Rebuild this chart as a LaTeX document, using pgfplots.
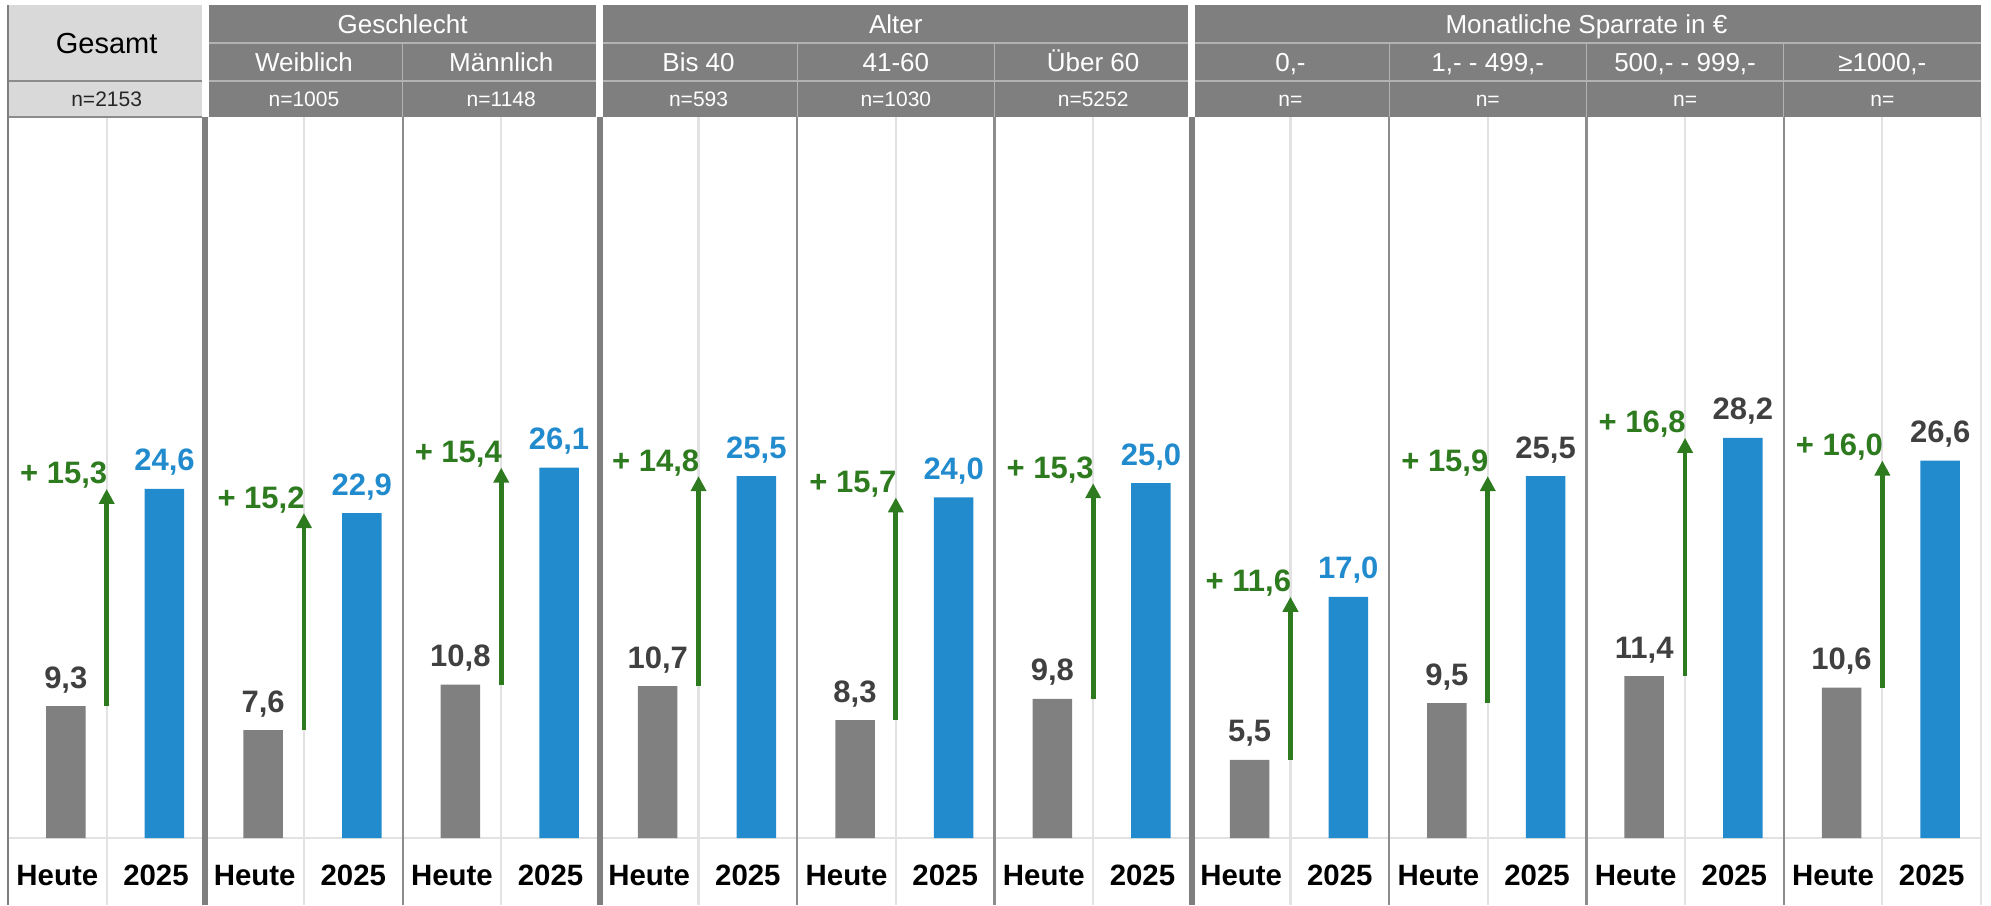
\documentclass[border=0pt]{standalone}
\usepackage{fontspec}
\setmainfont{Liberation Sans}
\usepackage{pgfplots}
\usepackage{pgfplotstable}
\pgfplotsset{compat=1.18}
\usetikzlibrary{arrows.meta}

\definecolor{barGray}{RGB}{128,128,128}
\definecolor{barBlue}{RGB}{34,139,206}
\definecolor{arrGreen}{RGB}{46,122,30}
\definecolor{lblGray}{RGB}{64,64,64}
\definecolor{hdrDark}{RGB}{127,127,127}
\definecolor{hdrLight}{RGB}{217,217,217}
\definecolor{gridLight}{RGB}{226,226,226}
\definecolor{subLine}{RGB}{140,140,140}
\definecolor{hdrLine}{RGB}{178,178,178}

\newcommand{\val}{\pgfmathprintnumber[fixed,fixed zerofill,precision=1,use comma,assume math mode=true]{\pgfplotspointmeta}}
\newcommand{\lblfont}{\fontsize{15.5pt}{18pt}\selectfont\bfseries}
\newcommand{\botfont}{\fontsize{14.7pt}{17pt}\selectfont\bfseries}
\newcommand{\hA}{\fontsize{13pt}{15pt}\selectfont}
\newcommand{\hG}{\fontsize{14.5pt}{16pt}\selectfont}
\newcommand{\hN}{\fontsize{10.5pt}{12pt}\selectfont}

% Heute (today)
\pgfplotstableread{
x y
0.586 9.3
2.586 7.6
4.586 10.8
6.586 10.7
8.586 8.3
10.586 9.8
12.586 5.5
14.586 9.5
16.586 11.4
18.586 10.6
}\heute

% 2025
\pgfplotstableread{
x y
1.586 24.6
3.586 22.9
5.586 26.1
7.586 25.5
9.586 24.0
11.586 25.0
13.586 17.0
15.586 25.5
17.586 28.2
19.586 26.6
}\zukunft

% arrows: from Heute to 2025, with printed difference
\pgfplotstableread{
x y0 y1 lab
1 9.3 24.6 15.3
3 7.6 22.9 15.2
5 10.8 26.1 15.4
7 10.7 25.5 14.8
9 8.3 24.0 15.7
11 9.8 25.0 15.3
13 5.5 17.0 11.6
15 9.5 25.5 15.9
17 11.4 28.2 16.8
19 10.6 26.6 16.0
}\pfeile

\pgfplotstableread{
x y lab
0.5 0 Heute
1.5 0 2025
2.5 0 Heute
3.5 0 2025
4.5 0 Heute
5.5 0 2025
6.5 0 Heute
7.5 0 2025
8.5 0 Heute
9.5 0 2025
10.5 0 Heute
11.5 0 2025
12.5 0 Heute
13.5 0 2025
14.5 0 Heute
15.5 0 2025
16.5 0 Heute
17.5 0 2025
18.5 0 Heute
19.5 0 2025
}\kat

\begin{document}
\begin{tikzpicture}
\path[use as bounding box] (-4pt,-33.5pt) rectangle (991.5pt,419pt);
\begin{scope}[x=49.325pt,y=0.5pt]
  % grid lines of the chart area
  \foreach \i in {1,3,...,19} \draw[gridLight, line width=1.1pt] (\i,-67) -- (\i,721);
  \draw[gridLight, line width=1pt] (0,0) -- (20,0);
  \draw[gridLight, line width=1.1pt] (20,-67) -- (20,721);
  \foreach \i in {4,8,10,14,16,18} \draw[subLine, line width=1.1pt] (\i,-67) -- (\i,721);
  \foreach \i in {2,6,12} \draw[hdrDark, line width=3pt] (\i,-67) -- (\i,721);
  % header fills
  \fill[hdrLight] (0,721) rectangle (1.965,833);
  \fill[hdrDark] (2.035,721) rectangle (5.965,833);
  \fill[hdrDark] (6.035,721) rectangle (11.965,833);
  \fill[hdrDark] (12.035,721) rectangle (20,833);
  % header inner lines
  \foreach \a/\b in {2.035/5.965, 6.035/11.965, 12.035/20} {
    \draw[hdrLine, line width=0.6pt] (\a,795) -- (\b,795);
    \draw[hdrLine, line width=0.6pt] (\a,757) -- (\b,757);
  }
  \foreach \i in {4,8,10,14,16,18} \draw[hdrLine, line width=0.6pt] (\i,721) -- (\i,795);
  \draw[subLine, line width=0.8pt] (0,757) -- (1.965,757);
  \draw[subLine, line width=1pt] (0,721) -- (1.965,721);
  \draw[hdrDark, line width=1.2pt] (0,-67) -- (0,833);
  % header texts
  \node[anchor=base, font=\hG, text=black] at (1,784.6) {Gesamt};
  \node[anchor=base, font=\hN, text=black!85] at (1,731.5) {n=2153};
  \begin{scope}[every node/.style={anchor=base, text=white}]
    \node[font=\hA] at (4,804.7) {Geschlecht};
    \node[font=\hA] at (9,804.7) {Alter};
    \node[font=\hA] at (16,804.7) {Monatliche Sparrate in €};
    \node[font=\hA] at (3,766.7) {Weiblich};
    \node[font=\hA] at (5,766.7) {Männlich};
    \node[font=\hA] at (7,766.7) {Bis 40};
    \node[font=\hA] at (9,766.7) {41-60};
    \node[font=\hA] at (11,766.7) {Über 60};
    \node[font=\hA] at (13,766.7) {0,-};
    \node[font=\hA] at (15,766.7) {1,- - 499,-};
    \node[font=\hA] at (17,766.7) {500,- - 999,-};
    \node[font=\hA] at (19,766.7) {≥1000,-};
    \node[font=\hN] at (3,731.5) {n=1005};
    \node[font=\hN] at (5,731.5) {n=1148};
    \node[font=\hN] at (7,731.5) {n=593};
    \node[font=\hN] at (9,731.5) {n=1030};
    \node[font=\hN] at (11,731.5) {n=5252};
    \node[font=\hN] at (13,731.5) {n=};
    \node[font=\hN] at (15,731.5) {n=};
    \node[font=\hN] at (17,731.5) {n=};
    \node[font=\hN] at (19,731.5) {n=};
  \end{scope}
\end{scope}

\begin{axis}[
  at={(0,0)}, anchor=south west,
  scale only axis, width=986.5pt, height=360pt,
  xmin=0, xmax=20, ymin=0, ymax=50.74,
  enlargelimits=false, hide axis, clip=false,
]
  % bars
  \addplot[ybar, bar width=19.75pt, bar shift=0pt, fill=barGray, draw=none] table[x=x,y=y] {\heute};
  \addplot[ybar, bar width=19.75pt, bar shift=0pt, fill=barBlue, draw=none] table[x=x,y=y] {\zukunft};
  % value labels
  \addplot[draw=none, point meta=y, nodes near coords={\val},
    nodes near coords style={anchor=base, inner sep=0pt, yshift=9pt, text=lblGray, font=\lblfont}]
    table[x=x,y=y] {\heute};
  \addplot[draw=none, point meta=y, nodes near coords={\val}, skip coords between index={7}{10},
    nodes near coords style={anchor=base, inner sep=0pt, yshift=9pt, text=barBlue, font=\lblfont}]
    table[x=x,y=y] {\zukunft};
  \addplot[draw=none, point meta=y, nodes near coords={\val}, skip coords between index={0}{7},
    nodes near coords style={anchor=base, inner sep=0pt, yshift=9pt, text=lblGray, font=\lblfont}]
    table[x=x,y=y] {\zukunft};
  % arrows
  \addplot[arrGreen, line width=2.4pt, -{Triangle[length=7.5pt,width=7.5pt]},
    quiver={u=0, v=\thisrow{y1}-\thisrow{y0}}] table[x=x,y=y0] {\pfeile};
  \addplot[draw=none, point meta=\thisrow{lab}, nodes near coords={+ \val},
    nodes near coords style={anchor=base east, inner sep=0pt, xshift=0.5pt, yshift=2.5pt, text=arrGreen, font=\lblfont}]
    table[x=x,y=y1] {\pfeile};
  % category labels
  \addplot[draw=none, point meta=explicit symbolic, nodes near coords={\pgfplotspointmeta},
    nodes near coords style={anchor=base, inner sep=0pt, yshift=-23.75pt, text=black, font=\botfont}]
    table[x=x,y=y,meta=lab] {\kat};
\end{axis}
\end{tikzpicture}
\end{document}
